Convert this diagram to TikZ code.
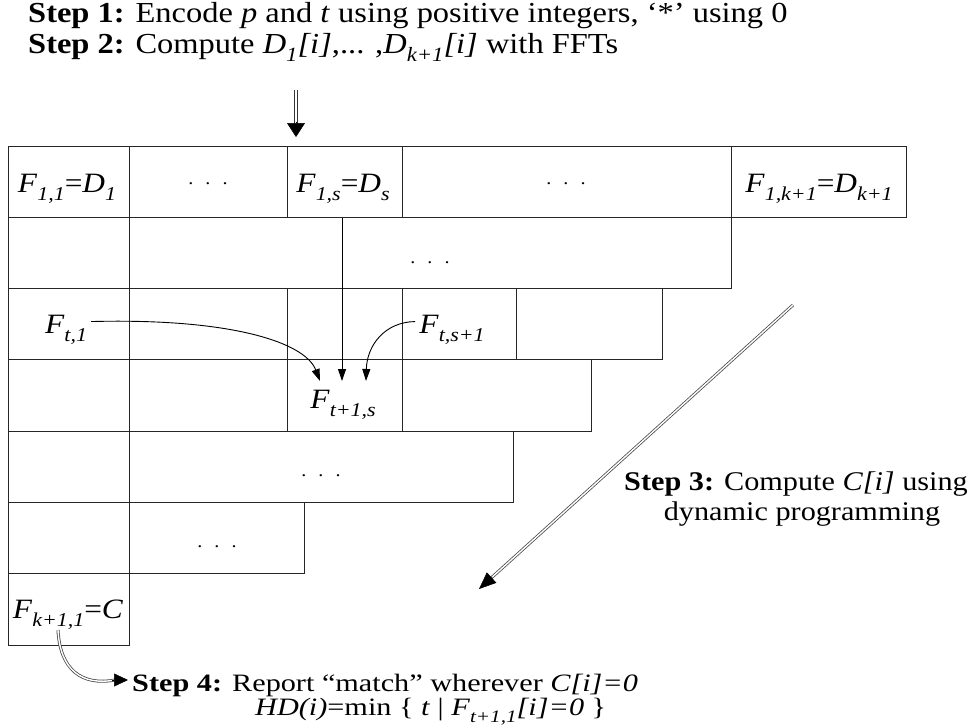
\documentclass[tikz,border=0pt]{standalone}
\usepackage{fontspec}
\setmainfont{Liberation Serif}[FakeStretch=1.12]
\usepackage{graphicx}
\usetikzlibrary{arrows.meta,calc}
\newcommand{\sbs}[1]{\raisebox{-0.3em}{\scalebox{0.7}{\itshape #1}}}
\newcommand{\tdots}{.\hspace{12pt}.\hspace{12pt}.}
\begin{document}
\begin{tikzpicture}[x=1pt,y=-1pt,
  cell/.style={draw=black!85, line width=1pt, anchor=north west, minimum height=71.3pt, inner sep=0pt, outer sep=0pt},
  lab/.style={inner sep=0pt, anchor=base, font=\fontsize{28}{30}\selectfont},
  dotsnode/.style={inner sep=0pt, anchor=base, font=\fontsize{18}{18}\selectfont},
  hdr/.style={inner sep=0pt, anchor=base west, font=\fontsize{27}{30}\selectfont},
  bot/.style={inner sep=0pt, anchor=base west, font=\fontsize{25}{27}\selectfont},
  top/.style={inner sep=0pt, anchor=base west, font=\fontsize{29}{32}\selectfont},
  thinarrow/.style={line width=0.9pt, -{Triangle[length=12pt,width=8pt]}},
  dbl/.style={draw=black!80, line width=1pt, double=white, double distance=2.5pt},
  dblthin/.style={draw=black!70, line width=0.8pt, double=white, double distance=1.4pt}]
\useasboundingbox (0,0) rectangle (975,726);

% row 1
\node[cell, minimum width=121.5pt] (a1) at (8,146) {};
\node[cell, minimum width=157.5pt] (a2) at (129.5,146) {};
\node[cell, minimum width=115pt]   (a3) at (287,146) {};
\node[cell, minimum width=329pt]   (a4) at (402,146) {};
\node[cell, minimum width=175pt]   (a5) at (731,146) {};
% row 2
\node[cell, minimum width=121.5pt] (b1) at (8,217.3) {};
\node[cell, minimum width=601.5pt] (b2) at (129.5,217.3) {};
% row 3
\node[cell, minimum width=121.5pt] (c1) at (8,288.6) {};
\node[cell, minimum width=157.5pt] (c2) at (129.5,288.6) {};
\node[cell, minimum width=115pt]   (c3) at (287,288.6) {};
\node[cell, minimum width=114pt]   (c4) at (402,288.6) {};
\node[cell, minimum width=146pt]   (c5) at (516,288.6) {};
% row 4
\node[cell, minimum width=121.5pt] (d1) at (8,359.9) {};
\node[cell, minimum width=157.5pt] (d2) at (129.5,359.9) {};
\node[cell, minimum width=115pt]   (d3) at (287,359.9) {};
\node[cell, minimum width=189pt]   (d4) at (402,359.9) {};
% row 5
\node[cell, minimum width=121.5pt] (e1) at (8,431.2) {};
\node[cell, minimum width=383.5pt] (e2) at (129.5,431.2) {};
% row 6
\node[cell, minimum width=121.5pt] (f1) at (8,502.5) {};
\node[cell, minimum width=174.5pt] (f2) at (129.5,502.5) {};
% row 7
\node[cell, minimum width=121.5pt] (g1) at (8,573.8) {};

% labels
\node[lab] (L11) at (67,192) {\textit{F}\sbs{1,1}=\textit{D}\sbs{1}};
\node[dotsnode] (L12) at (208,184) {\tdots};
\node[lab] (L13) at (343,192) {\textit{F}\sbs{1,s}=\textit{D}\sbs{s}};
\node[dotsnode] (L14) at (566,184) {\tdots};
\node[lab] (L15) at (819,192) {\textit{F}\sbs{1,k+1}=\textit{D}\sbs{k+1}};
\node[dotsnode] (L2) at (430,263) {\tdots};
\node[lab] (Lt1) at (66,333) {\textit{F}\sbs{t,1}};
\node[lab] (Lts) at (452,333) {\textit{F}\sbs{t,s+1}};
\node[lab] (Lt1s) at (343,408) {\textit{F}\sbs{t+1,s}};
\node[dotsnode] (L5) at (321,476) {\tdots};
\node[dotsnode] (L6) at (217,547) {\tdots};
\node[lab] (Lk) at (68,618) {\textit{F}\sbs{k+1,1}=\textit{C}};

% header texts
\node[top] (s1) at (28,22) {\textbf{Step 1:} Encode \textit{p} and \textit{t} using positive integers, ‘*’ using 0};
\node[top] (s2) at (28,53) {\textbf{Step 2:} Compute \textit{D}\sbs{1}\textit{[i]},... ,\textit{D}\sbs{k+1}\textit{[i]} with FFTs};
\node[hdr, anchor=base] (s3a) at (796,490) {\textbf{Step 3:} Compute \textit{C[i]} using};
\node[hdr, anchor=base] (s3b) at (802,520) {dynamic programming};
\node[bot] (s4a) at (132,691) {\scalebox{1.08}[1]{\textbf{Step 4:} Report “match” wherever \textit{C[i]=0}}};
\node[bot] (s4b) at (255,715) {\scalebox{1.08}[1]{\textit{HD(i)}=min \{ \textit{t} | \textit{F}\sbs{t+1,1}\textit{[i]=0} \}}};

% inner arrows
\coordinate (tipL) at (320,381);
\coordinate (tipM) at (342,381);
\coordinate (tipR) at (366,381);
\draw[thinarrow] ($(L13.south)+(-1,14)$) -- (tipM);
\draw[thinarrow] ($(Lt1.east)+(4,-8)$) .. controls (230,318) and (305,342) .. (tipL);
\draw[thinarrow] ($(Lts.west)+(-4,-8)$) .. controls (385,322) and (367,345) .. (tipR);

% step 2 arrow
\coordinate (d0) at (296,90);
\coordinate (d1) at (296,137);
\draw[dbl] (d0) -- ($(d1)+(0,-12)$);
\draw[line width=0.5pt, -{Triangle[length=14pt,width=18pt]}] ($(d1)+(0,-15)$) -- (d1);

% step 3 arrow
\coordinate (t0) at (793,305);
\coordinate (t1) at (479,589);
\draw[dblthin] (t0) -- ($(t1)!14pt!(t0)$);
\draw[line width=0.5pt, -{Triangle[length=17pt,width=14pt]}] ($(t1)!18pt!(t0)$) -- (t1);

% step 4 arrow
\coordinate (u0) at (58,630);
\coordinate (u1) at ($(s4a.west)+(-4,-5)$);
\draw[dblthin] (u0) .. controls (60,670) and (82,686) .. ($(u1)+(-13,0)$);
\draw[line width=0.5pt, -{Triangle[length=14pt,width=13pt]}] ($(u1)+(-16,0)$) -- (u1);
\end{tikzpicture}
\end{document}
